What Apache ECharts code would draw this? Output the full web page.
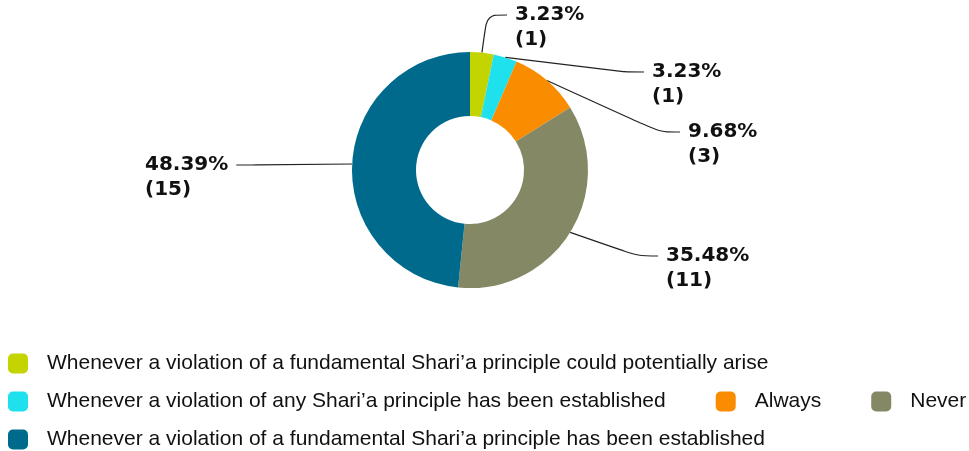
<!DOCTYPE html>
<html>
<head>
<meta charset="utf-8">
<script src="https://cdn.jsdelivr.net/npm/echarts@6/dist/echarts.min.js"></script>
<style>
  html, body { margin: 0; padding: 0; background: #fff; overflow: hidden; }
  #pie { width: 969px; height: 451px; }
</style>
</head>
<body>
<div id="pie"></div>
<script>
// 数据
var categories = [
    'Whenever a violation of a fundamental Shari\u2019a principle could potentially arise',
    'Whenever a violation of any Shari\u2019a principle has been established',
    'Always',
    'Never',
    'Whenever a violation of a fundamental Shari\u2019a principle has been established'
];
var counts = [1, 1, 3, 11, 15];
var colors = ['#c3d400', '#1fe1ee', '#fa8c00', '#858865', '#006a8d'];
// 标签位置 (左边x, 第一行中心y)
var labelPos = [[507, 15], [644, 72], [680, 132], [658, 256], [137, 165]];

var total = 0;
for (var k = 0; k < counts.length; k++) total += counts[k];

var pieData = [];
for (var i = 0; i < categories.length; i++) {
    pieData.push({ name: categories[i], value: counts[i], itemStyle: { color: colors[i] } });
}

var myChart = echarts.init(document.getElementById('pie'));

function legendRow(names, top, gap) {
    return {
        data: names,
        left: 3,
        top: top,
        width: 1300,
        orient: 'horizontal',
        itemWidth: 20,
        itemHeight: 20,
        itemGap: gap,
        icon: 'roundRect',
        selectedMode: false,
        textStyle: {
            fontFamily: 'Liberation Sans, Arial, sans-serif',
            fontSize: 21,
            color: '#111',
            padding: [0, 0, 0, 14]
        }
    };
}

var option = {
    animation: false,
    legend: [
        legendRow([categories[0]], 348, 30),
        legendRow([categories[1], categories[2], categories[3]], 386, 50),
        legendRow([categories[4]], 424, 30)
    ],
    series: [
        {
            type: 'pie',
            center: [470, 170],
            radius: [54, 118],
            startAngle: 90,
            clockwise: true,
            avoidLabelOverlap: false,
            data: pieData,
            label: {
                show: true,
                position: 'outside',
                // 空行在上面, 让第一行在标签中心
                formatter: function (p) {
                    return ' \n' + (p.value / total * 100).toFixed(2) + '%\n(' + p.value + ')';
                },
                fontFamily: 'DejaVu Sans, Verdana, sans-serif',
                fontWeight: 'bold',
                fontSize: 20,
                lineHeight: 25,
                padding: [0, 8],
                color: '#111'
            },
            labelLine: {
                show: true,
                length: 15,
                length2: 20,
                smooth: 0.3,
                lineStyle: { color: '#222', width: 1.2 }
            },
            labelLayout: function (params) {
                var pos = labelPos[params.dataIndex];
                return { x: pos[0], y: pos[1], align: 'left', verticalAlign: 'middle' };
            }
        }
    ]
};

myChart.setOption(option);
</script>
</body>
</html>
